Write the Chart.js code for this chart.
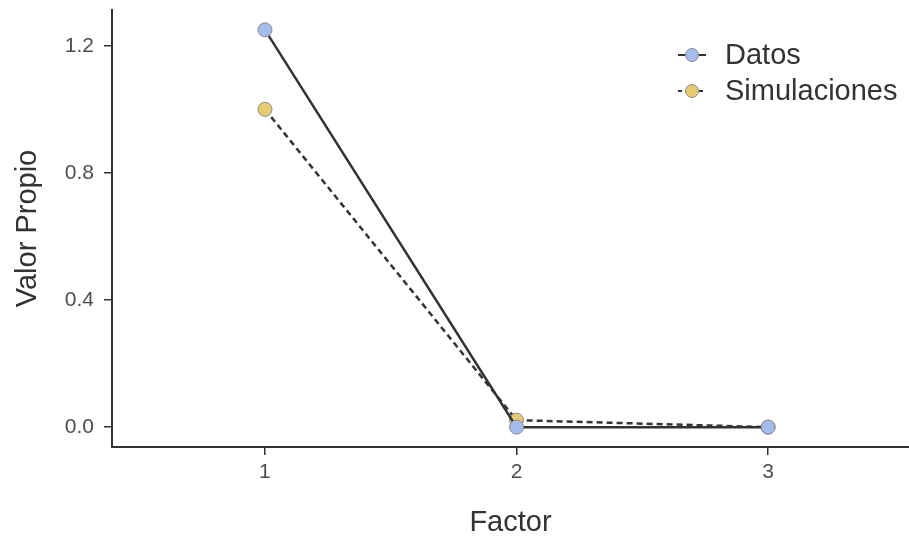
<!DOCTYPE html>
<html lang="es">
<head>
    <meta charset="UTF-8">
    <title>Valor Propio por Factor</title>
    <script src="https://cdnjs.cloudflare.com/ajax/libs/Chart.js/4.4.0/chart.umd.min.js"></script>
    <style>
        body { margin: 0; background: #fff; }
        canvas { display: block; }
    </style>
</head>
<body>
    <canvas id="scree" width="909" height="538"></canvas>

    <script>
        // data
        const factores = [1, 2, 3];
        const datos = [1.25, 0.0, 0.0];
        const simulaciones = [1.0, 0.022, 0.0];
        const yTicks = [0.0, 0.4, 0.8, 1.2];
        const xTicks = [1, 2, 3];

        const FONT = '"Liberation Sans", Arial, sans-serif';
        const INK = '#333333';

        const toPoints = vals => factores.map((f, i) => ({ x: f, y: vals[i] }));

        // legend with line + dot like ggplot
        const legendPlugin = {
            id: 'ggLegend',
            afterDraw(chart) {
                const c = chart.ctx;
                const items = [
                    { label: 'Datos', color: '#a4bcec', dash: [] },
                    { label: 'Simulaciones', color: '#e6cb72', dash: [4, 3] }
                ];
                c.save();
                items.forEach((it, i) => {
                    const y = 55 + i * 36;
                    c.strokeStyle = INK;
                    c.lineWidth = 2;
                    c.setLineDash(it.dash);
                    c.beginPath();
                    c.moveTo(678, y);
                    c.lineTo(706, y);
                    c.stroke();
                    c.setLineDash([]);
                    c.beginPath();
                    c.arc(692, y, 6.5, 0, Math.PI * 2);
                    c.fillStyle = it.color;
                    c.fill();
                    c.strokeStyle = '#8a8a8a';
                    c.lineWidth = 1;
                    c.stroke();
                    c.fillStyle = INK;
                    c.font = '29px ' + FONT;
                    c.textBaseline = 'middle';
                    c.fillText(it.label, 725, y + 1);
                });
                c.restore();
            }
        };

        const noEdgePad = s => {
            s.paddingTop = 0; s.paddingBottom = 0;
            s.paddingLeft = 0; s.paddingRight = 0;
        };

        const ctx = document.getElementById('scree').getContext('2d');

        new Chart(ctx, {
            type: 'line',
            data: {
                datasets: [{
                    label: 'Datos',
                    data: toPoints(datos),
                    borderColor: INK,
                    borderWidth: 2.5,
                    pointRadius: 7,
                    pointBackgroundColor: '#a4bcec',
                    pointBorderColor: '#8a8a8a',
                    pointBorderWidth: 1,
                    tension: 0
                }, {
                    label: 'Simulaciones',
                    data: toPoints(simulaciones),
                    borderColor: INK,
                    borderWidth: 2.5,
                    borderDash: [6, 4],
                    pointRadius: 7,
                    pointBackgroundColor: '#e6cb72',
                    pointBorderColor: '#8a8a8a',
                    pointBorderWidth: 1,
                    tension: 0
                }]
            },
            options: {
                responsive: false,
                animation: false,
                layout: { autoPadding: false, padding: { top: 10, right: 0, left: 0, bottom: 0 } },
                plugins: {
                    legend: { display: false },
                    tooltip: { enabled: false }
                },
                scales: {
                    x: {
                        type: 'linear',
                        min: 0.392,
                        max: 3.56,
                        afterFit: s => { s.height = 91; noEdgePad(s); },
                        afterBuildTicks: s => { s.ticks = xTicks.map(v => ({ value: v })); },
                        border: { display: true, color: INK, width: 2 },
                        grid: { drawOnChartArea: false, drawTicks: true, tickLength: 8, color: INK, lineWidth: 1.5 },
                        ticks: {
                            color: '#4d4d4d',
                            font: { family: FONT, size: 21 },
                            padding: 5,
                            callback: v => String(v)
                        },
                        title: {
                            display: true,
                            text: 'Factor',
                            color: INK,
                            font: { family: FONT, size: 29 },
                            padding: { top: 0, bottom: -2 }
                        }
                    },
                    y: {
                        min: -0.0625,
                        max: 1.3125,
                        afterFit: s => { s.width = 112; noEdgePad(s); },
                        afterBuildTicks: s => { s.ticks = yTicks.map(v => ({ value: v })); },
                        border: { display: true, color: INK, width: 2 },
                        grid: { drawOnChartArea: false, drawTicks: true, tickLength: 8, color: INK, lineWidth: 1.5 },
                        ticks: {
                            color: '#4d4d4d',
                            font: { family: FONT, size: 21 },
                            padding: 10,
                            callback: v => v.toFixed(1)
                        },
                        title: {
                            display: true,
                            text: 'Valor Propio',
                            color: INK,
                            font: { family: FONT, size: 29 },
                            padding: { top: 11, bottom: 0 }
                        }
                    }
                }
            },
            plugins: [legendPlugin]
        });
    </script>
</body>
</html>
